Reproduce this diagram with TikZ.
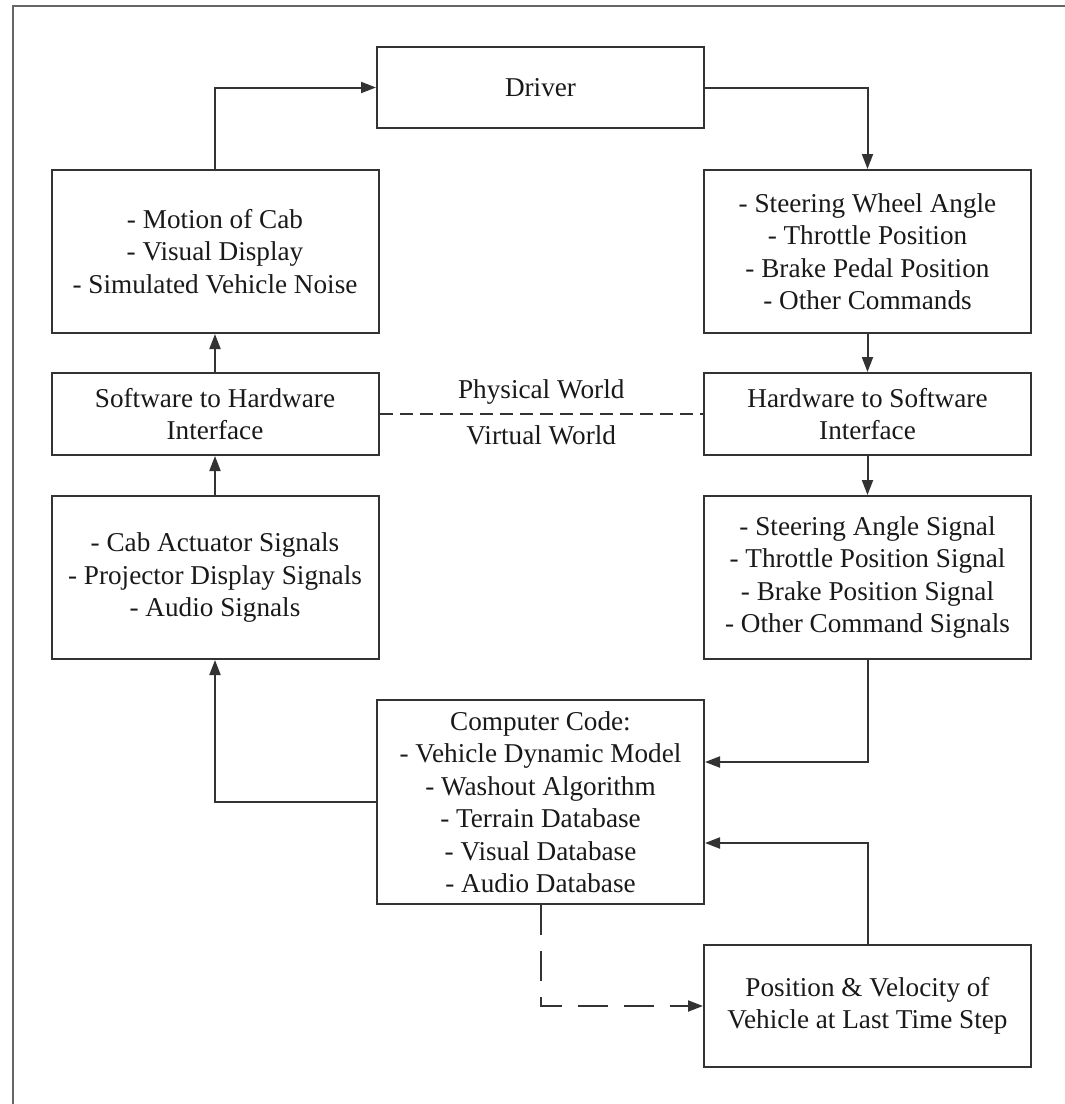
\documentclass[tikz,border=0pt]{standalone}
\usepackage{fontspec}
\setmainfont{Liberation Serif}
\usetikzlibrary{calc}
\usetikzlibrary{positioning}
\usetikzlibrary{arrows.meta}
\tikzstyle{blocknode} = [draw=black!80, rectangle, line width=1pt, minimum width=163.5pt, inner sep=0pt, align=center, text=black!90, font=\fontsize{13.6}{16.25}\selectfont]
\tikzstyle{flowline} = [draw=black!80, line width=1pt, -{Triangle[length=7.5pt,width=5.5pt]}]
\tikzstyle{worldline} = [draw=black!80, line width=1pt, dash pattern=on 6.5pt off 3.5pt]
\tikzstyle{stepline} = [flowline, dash pattern=on 15pt off 8pt]

\begin{document}
\begin{tikzpicture}[x=0.5pt, y=-0.5pt]
\useasboundingbox (0,0) rectangle (1065,1104);
\draw[black!60, line width=1.3pt] (13,1104) -- (13,6) -- (1065,6);

\node[blocknode, minimum height=40.5pt] (driver) at (540.5,87.5) {Driver};
\node[blocknode, minimum height=81.5pt] (motion) at ($(driver)+(-325.5,164)$) {- Motion of Cab\\- Visual Display\\- Simulated Vehicle Noise};
\node[blocknode, minimum height=41pt] (sw_iface) at ($(motion)+(0,162.5)$) {Software to Hardware\\Interface};
\node[blocknode, minimum height=81.5pt] (cab_signals) at ($(sw_iface)+(0,163.5)$) {- Cab Actuator Signals\\- Projector Display Signals\\- Audio Signals};
\node[blocknode, minimum height=81.5pt] (commands) at ($(driver)+(327,164)$) {- Steering Wheel Angle\\- Throttle Position\\- Brake Pedal Position\\- Other Commands};
\node[blocknode, minimum height=41pt] (hw_iface) at ($(commands)+(0,162.5)$) {Hardware to Software\\Interface};
\node[blocknode, minimum height=81.5pt] (cmd_signals) at ($(hw_iface)+(0,163.5)$) {- Steering Angle Signal\\- Throttle Position Signal\\- Brake Position Signal\\- Other Command Signals};
\node[blocknode, minimum height=102pt] (code) at ($(driver)+(0,714.5)$) {Computer Code:\\- Vehicle Dynamic Model\\- Washout Algorithm\\- Terrain Database\\- Visual Database\\- Audio Database};
\node[blocknode, minimum height=61pt] (last_step) at ($(commands)+(0,754.5)$) {Position \& Velocity of\\Vehicle at Last Time Step};

\draw[flowline] (motion.north) |- (driver.west);
\draw[flowline] (driver.east) -| (commands.north);
\draw[flowline] (commands.south) -- (hw_iface.north);
\draw[flowline] (hw_iface.south) -- (cmd_signals.north);
\draw[flowline] (cmd_signals.south) |- ($(code.east)+(0,-40)$);
\draw[flowline] (last_step.north) |- ($(code.east)+(0,41)$);
\draw[flowline] (code.west) -| (cab_signals.south);
\draw[flowline] (cab_signals.north) -- (sw_iface.south);
\draw[flowline] (sw_iface.north) -- (motion.south);
\draw[stepline] (code.south) |- (last_step.west);
\draw[worldline] (sw_iface.east) -- node[above=1pt, text=black!90, font=\fontsize{13.6}{16.25}\selectfont] {Physical World} node[below=2pt, text=black!90, font=\fontsize{13.6}{16.25}\selectfont] {Virtual World} (hw_iface.west);
\end{tikzpicture}
\end{document}
